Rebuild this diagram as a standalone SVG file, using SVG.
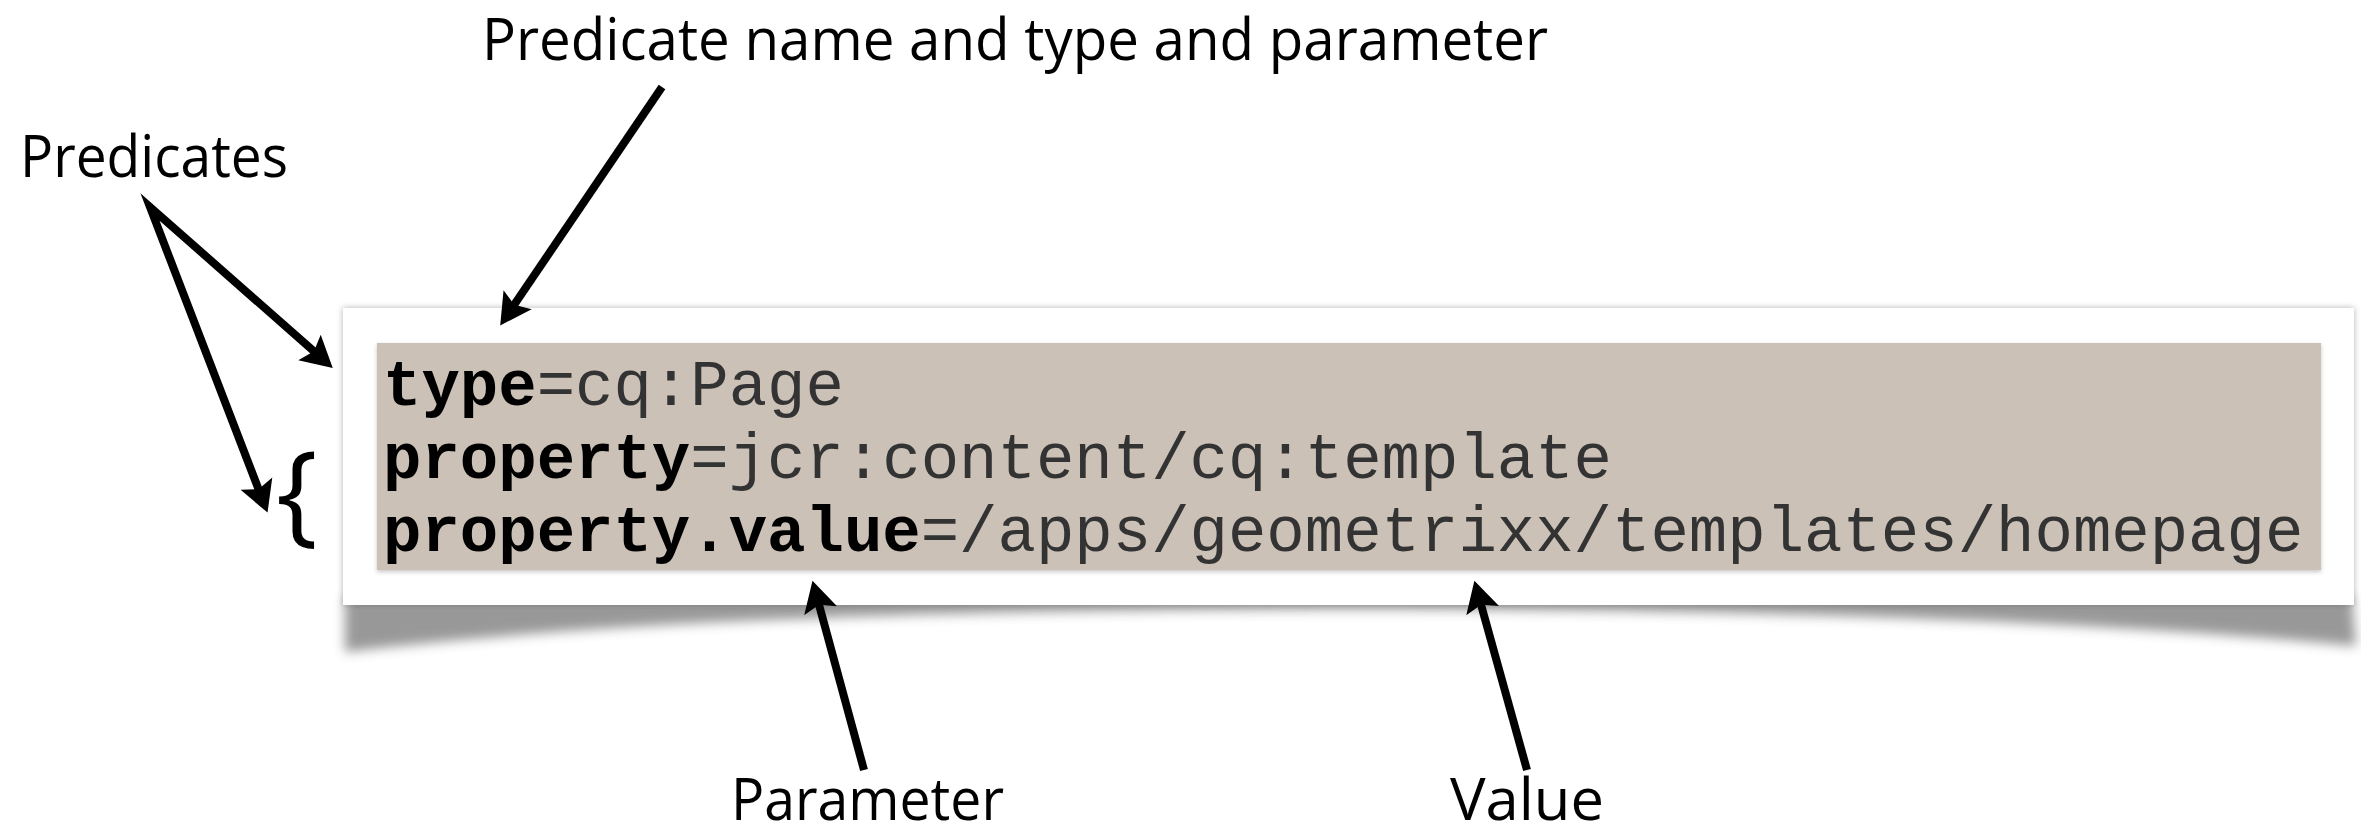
<svg xmlns="http://www.w3.org/2000/svg" width="2361" height="833" viewBox="0 0 2361 833">
  <defs>
    <style>
      .label { font-family: "Open Sans", "Noto Sans", "DejaVu Sans", sans-serif; font-size: 58px; fill: #000; }
      .code { font-family: "Liberation Mono", "Courier New", monospace; font-size: 64px; fill: #333; }
      .code .kw { font-weight: bold; fill: #000; }
      .arrow { fill: none; stroke: #000; stroke-width: 8; stroke-linejoin: miter; stroke-miterlimit: 20; }
    </style>
    <marker id="head" viewBox="0 -18 32 36" markerUnits="userSpaceOnUse" markerWidth="32" markerHeight="36" refX="10" refY="0" orient="auto-start-reverse">
      <path d="M0,-17 L31,0 L0,17 L6,0 Z" fill="#000"/>
    </marker>
    <filter id="blurShadow" x="-5%" y="-50%" width="110%" height="200%">
      <feGaussianBlur stdDeviation="6"/>
    </filter>
    <filter id="cardShadow" x="-2%" y="-10%" width="104%" height="120%">
      <feDropShadow dx="0" dy="0" stdDeviation="3" flood-color="#000" flood-opacity="0.3"/>
    </filter>
    <filter id="boxShadow" x="-2%" y="-10%" width="104%" height="120%">
      <feDropShadow dx="0" dy="2" stdDeviation="2" flood-color="#000" flood-opacity="0.22"/>
    </filter>
  </defs>

  <g id="card">
    <path d="M345,598 L2352,598 L2356,646 C2100,622 1800,610 1350,609 C900,610 600,622 345,652 Z" fill="#555" opacity="0.6" filter="url(#blurShadow)"/>
    <rect x="343" y="308" width="2011" height="297" fill="#ffffff" filter="url(#cardShadow)"/>
  </g>

  <g id="query">
    <rect x="377" y="343" width="1944" height="227" fill="#cbc1b7" filter="url(#boxShadow)"/>
    <text class="code" x="383" y="405"><tspan class="kw">type</tspan>=cq:Page</text>
    <text class="code" x="383" y="478"><tspan class="kw">property</tspan>=jcr:content/cq:template</text>
    <text class="code" x="383" y="551"><tspan class="kw">property.value</tspan>=/apps/geometrixx/templates/homepage</text>
  </g>

  <g id="label-predicates">
    <text class="label" x="20" y="177" textLength="268" lengthAdjust="spacingAndGlyphs">Predicates</text>
  </g>
  <g id="label-name">
    <text class="label" x="482" y="60" textLength="1066" lengthAdjust="spacingAndGlyphs">Predicate name and type and parameter</text>
  </g>
  <g id="label-parameter">
    <text class="label" x="731" y="820" textLength="273" lengthAdjust="spacingAndGlyphs">Parameter</text>
  </g>
  <g id="label-value">
    <text class="label" x="1450" y="820" textLength="154" lengthAdjust="spacingAndGlyphs">Value</text>
  </g>
  <g id="brace">
    <text class="label" x="276" y="531" style="font-size:111px">{</text>
  </g>

  <g id="connectors">
    <path class="arrow" d="M260,493 L150,207 L317,354" marker-start="url(#head)" marker-end="url(#head)"/>
    <path class="arrow" d="M662,87 L512,308" marker-end="url(#head)"/>
    <path class="arrow" d="M864,770 L818,601" marker-end="url(#head)"/>
    <path class="arrow" d="M1527,770 L1480,601" marker-end="url(#head)"/>
  </g>
</svg>
